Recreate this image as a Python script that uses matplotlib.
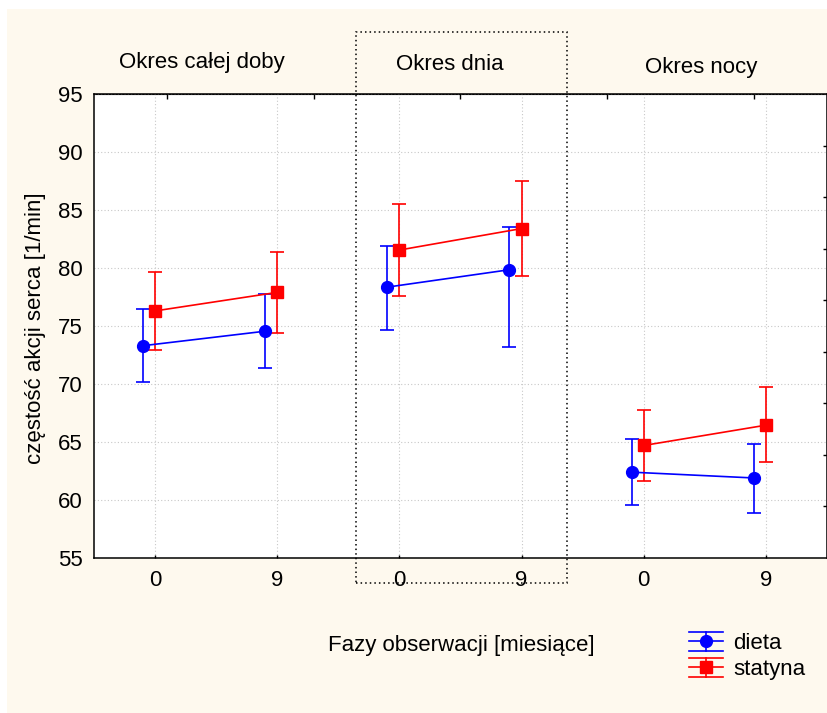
import matplotlib.pyplot as plt
import matplotlib as mpl
from matplotlib.legend_handler import HandlerBase
from matplotlib.patches import Rectangle
from matplotlib.lines import Line2D
import numpy as np

plt.rcParams['font.family'] = ['Liberation Sans', 'DejaVu Sans']
plt.rcParams['font.size'] = 16

# Data (group x phase)
groups = ["Okres całej doby", "Okres dnia", "Okres nocy"]
phases = ["0", "9"]

dieta_mean = [73.3, 74.55, 78.35, 79.85, 62.4, 61.9]
dieta_low = [70.2, 71.35, 74.65, 73.15, 59.6, 58.9]
dieta_high = [76.45, 77.8, 81.9, 83.55, 65.25, 64.8]

statyna_mean = [76.3, 77.9, 81.55, 83.4, 64.7, 66.45]
statyna_low = [72.95, 74.4, 77.6, 79.3, 61.65, 63.3]
statyna_high = [79.65, 81.4, 85.55, 87.5, 67.8, 69.7]

W, H = 828, 713
fig = plt.figure(figsize=(W / 100, H / 100), dpi=100, facecolor="white")

# cream background panel
fig.patches.append(Rectangle((7 / W, 0), 1 - 7 / W, 1 - 9 / H, transform=fig.transFigure,
                             facecolor="#FEF9EE", edgecolor="none", zorder=-10))

ax = fig.add_axes([94 / W, 1 - 558 / H, (827 - 94) / W, (558 - 94) / H])
ax.set_facecolor("white")

x = np.arange(len(groups) * len(phases))
offset = 0.1

series = [
    (dieta_mean, dieta_low, dieta_high, "blue", "o", 8.5, -offset),
    (statyna_mean, statyna_low, statyna_high, "red", "s", 8, 0.0),
]

for (mean, low, high, colour, marker, ms, dx) in series:
    mean = np.array(mean)
    err = [mean - np.array(low), np.array(high) - mean]
    for g in range(len(groups)):
        sl = slice(2 * g, 2 * g + 2)
        ax.errorbar(x[sl] + dx, mean[sl], yerr=[err[0][sl], err[1][sl]], color=colour,
                    marker=marker, markersize=ms, linewidth=1.2, elinewidth=1.2,
                    capsize=4.7, capthick=1.2, zorder=3)

# Axes configuration
ax.set_xlim(-0.5, 5.5)
ax.set_ylim(55, 95)
ax.set_yticks(np.arange(55, 96, 5))
ax.set_xticks(x)
ax.set_xticklabels(phases * len(groups))
ax.grid(True, color="#c8c8c8", linestyle=(0, (1, 2)), linewidth=0.8)
ax.set_axisbelow(True)
ax.tick_params(axis="y", length=0, pad=8)
ax.tick_params(axis="x", direction="in", length=2.5, pad=8.5, width=1)
for sp in ax.spines.values():
    sp.set_linewidth(1.1)

# extra ticks on top / right like Statistica
top = ax.secondary_xaxis("top")
top.set_xticks([-0.5 + 1.2 * (k + 0.5) for k in range(5)])
top.set_xticklabels([])
top.tick_params(direction="in", length=3.4, width=1)
right = ax.secondary_yaxis("right")
right.set_yticks([55 + 40 / 9 * k for k in range(1, 9)])
right.set_yticklabels([])
right.tick_params(direction="in", length=3, width=1)

# Group titles
fig.text(202 / W, 1 - 68 / H, groups[0], ha="center", va="baseline")
fig.text(449.5 / W, 1 - 70 / H, groups[1], ha="center", va="baseline")
fig.text(701 / W, 1 - 72.5 / H, groups[2], ha="center", va="baseline")

# dotted frame round the middle group
fig.patches.append(Rectangle((356 / W, 1 - 583 / H), (567 - 356) / W, (583 - 31.5) / H,
                             transform=fig.transFigure, fill=False, edgecolor="black",
                             linewidth=1.1, linestyle=(0, (1, 2)), zorder=5))

# Axis labels
fig.text(461 / W, 1 - 651 / H, "Fazy obserwacji [miesiące]", ha="center", va="baseline")
fig.text(36 / W, 1 - 328 / H, "częstość akcji serca [1/min]", rotation=90,
         ha="center", va="center")


# Legend handles drawn the Statistica way
class StatHandler(HandlerBase):
    def create_artists(self, legend, orig_handle, xdescent, ydescent, width, height, fontsize, trans):
        c = orig_handle.get_color()
        yc = height / 2 - ydescent
        h = 9.5 * 72 / 100
        arts = []
        for yy in (yc - h, yc, yc + h):
            arts.append(Line2D([-xdescent, width - xdescent], [yy, yy], color=c, lw=1.2, transform=trans))
        xm = width / 2 - xdescent
        arts.append(Line2D([xm, xm], [yc - h, yc + h], color=c, lw=1.2, transform=trans))
        arts.append(Line2D([xm], [yc], color=c, marker=orig_handle.get_marker(),
                           markersize=orig_handle.get_markersize(), lw=0, transform=trans))
        return arts


legend_elements = [Line2D([0], [0], color="blue", marker="o", markersize=8.5, label="dieta"),
                   Line2D([0], [0], color="red", marker="s", markersize=8, label="statyna")]
fig.legend(handles=legend_elements, handler_map={Line2D: StatHandler()},
           loc="upper left", bbox_to_anchor=(689 / W, 1 - 633 / H), frameon=False,
           borderpad=0, borderaxespad=0, handlelength=1.53, handletextpad=0.45,
           labelspacing=0.23)

plt.savefig("out.png", dpi=100, facecolor="white")
